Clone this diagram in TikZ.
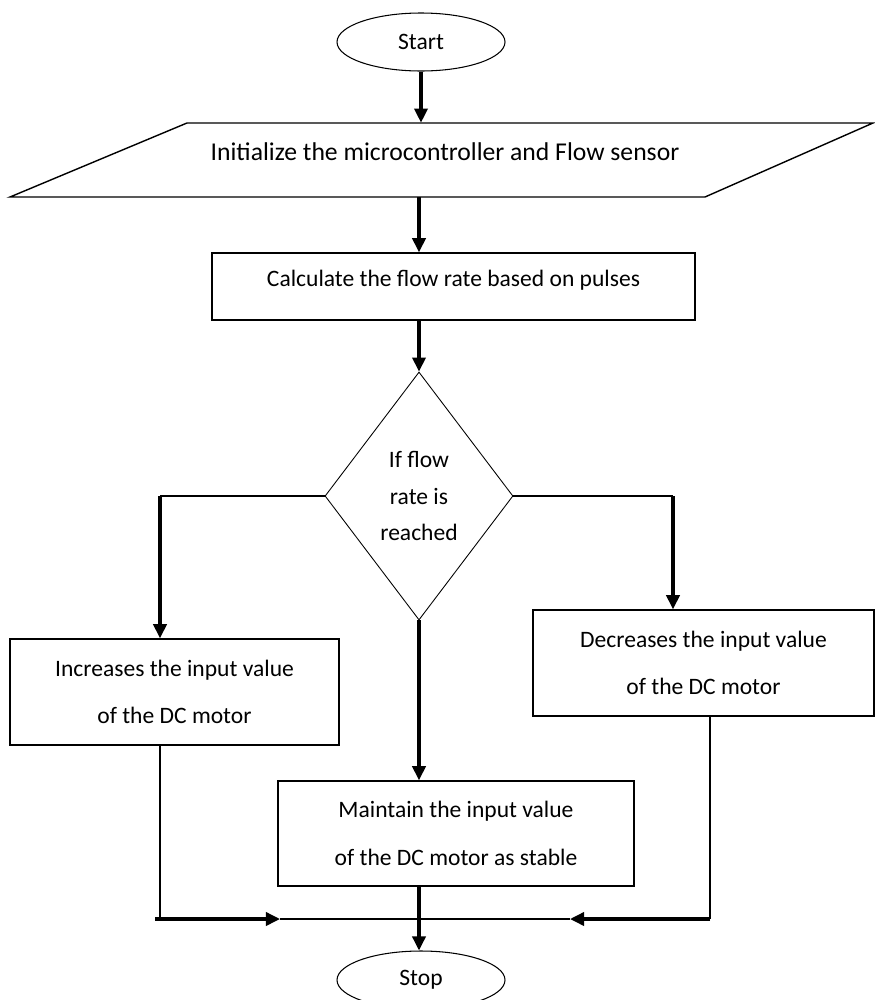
\documentclass[tikz,border=0pt]{standalone}
\usepackage{fontspec}
\setmainfont{Carlito}
\usetikzlibrary{shapes.geometric, arrows.meta, positioning}

\begin{document}
\begin{tikzpicture}[font=\fontsize{13.4}{27}\selectfont,
    term/.style={ellipse, draw, line width=0.6pt, minimum width=3.36cm, minimum height=1.16cm},
    proc/.style={rectangle, draw, line width=0.8pt, align=center, inner sep=0},
    cond/.style={diamond, draw, line width=0.5pt, minimum width=3.76cm, minimum height=4.96cm,
        inner sep=0, align=center, font=\fontsize{13.4}{20.7}\selectfont},
    flow/.style={-{Triangle[length=8pt,width=7.5pt]}, line width=1.8pt},
    line/.style={line width=0.7pt}]
            \useasboundingbox (0,0) rectangle (17.5,-20);

            % Nodes
            \node[term] (start) at (8.42,-0.84) {Start};
            \node[inner sep=0, text height=0.74cm, text depth=0.74cm, font=\fontsize{14.6}{15}\selectfont]
                (init) at (8.9,-3.2) {Initialize the microcontroller and Flow sensor};
            \draw[line width=0.8pt] (3.74,-2.46) -- (17.46,-2.46) -- (14.1,-3.94) -- (0.2,-3.94) -- cycle;
            \node[proc, minimum width=9.66cm, text height=0.67cm, text depth=0.67cm]
                (calc) at (9.07,-5.73) {Calculate the flow rate based on pulses};
            \node[cond] (dec) at (8.38,-9.92) {If flow\\rate is\\reached};
            \node[proc, minimum width=6.58cm, minimum height=2.12cm]
                (incr) at (3.49,-13.84) {Increases the input value\\of the DC motor};
            \node[proc, minimum width=6.82cm, minimum height=2.12cm]
                (decr) at (14.07,-13.26) {Decreases the input value\\of the DC motor};
            \node[proc, minimum width=7.12cm, minimum height=2.1cm]
                (hold) at (9.12,-16.67) {Maintain the input value\\of the DC motor as stable};
            \node[term] (stop) at (8.42,-19.6) {Stop};

            % Helper points
            \coordinate (sx) at (8.38,0);
            \coordinate (lx) at (3.2,0);
            \coordinate (rx) at (13.46,0);
            \coordinate (jl) at (3.1,-18.38);
            \coordinate (jr) at (14.2,-18.38);
            \coordinate (al) at (5.6,-18.38);
            \coordinate (ar) at (11.4,-18.38);

            % Main line
            \draw[flow] (start) -- (start |- init.north);
            \draw[flow] (sx |- init.south) -- (sx |- calc.north);
            \draw[flow] (sx |- calc.south) -- (dec.north);
            \draw[flow] (dec.south) -- (dec.south |- hold.north);
            \draw[flow] (sx |- hold.south) -- (sx |- stop.north);

            % Branches
            \draw[line] (dec.west) -- (lx |- dec.west);
            \draw[flow] (lx |- dec.west) -- (lx |- incr.north);
            \draw[line] (dec.east) -- (rx |- dec.east);
            \draw[flow] (rx |- dec.east) -- (rx |- decr.north);

            % Joining
            \draw[line] (lx |- incr.south) -- (lx |- jl);
            \draw[flow] (jl) -- (al);
            \draw[line] (al) -- (ar);
            \draw[line] (jr |- decr.south) -- (jr);
            \draw[flow] (jr) -- (ar);
        \end{tikzpicture}
\end{document}
